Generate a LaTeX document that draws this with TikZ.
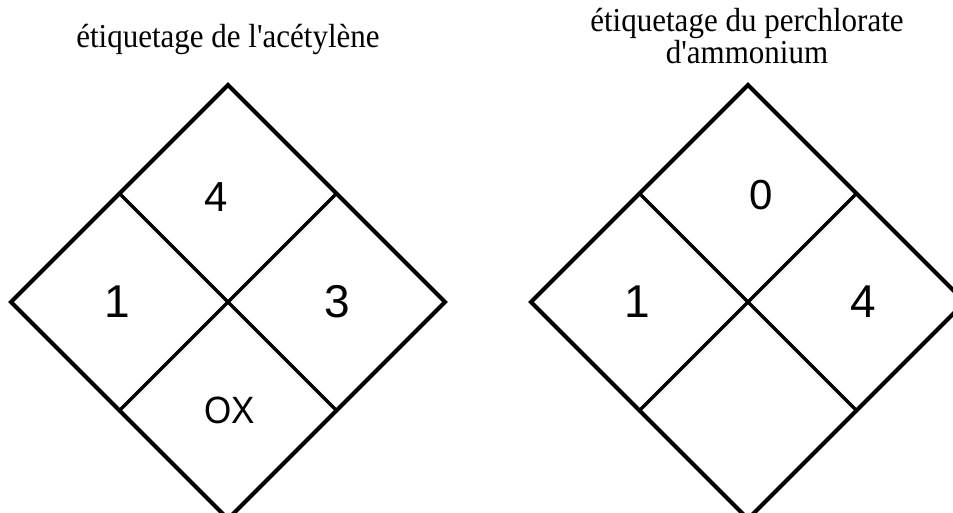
\documentclass[tikz,border=0pt]{standalone}
\usepackage{fontspec}
\newfontfamily\titlefont{Liberation Serif}
\newfontfamily\labelfont{Liberation Sans}
\usetikzlibrary{calc}
\begin{document}
\begin{tikzpicture}[x=1pt,y=1pt,
  outer/.style={line width=4pt,line join=miter},
  inner/.style={line width=3.4pt},
  title/.style={font=\titlefont\fontsize{31}{30}\selectfont,inner sep=0pt,yscale=1.08,align=center},
  topdigit/.style={font=\labelfont\fontsize{42}{42}\selectfont,inner sep=0pt},
  sidedigit/.style={font=\labelfont\fontsize{46}{46}\selectfont,inner sep=0pt},
  oxlab/.style={font=\labelfont\fontsize{38}{38}\selectfont,inner sep=0pt,xscale=0.92}]
\useasboundingbox (0,0) rectangle (953,513);
\clip (0,0) rectangle (953,513);
% titles
\node[title,anchor=base] (t1) at (228,465) {étiquetage de l'acétylène};
\node[title,anchor=base] (t2) at (747,449) {étiquetage du perchlorate\\d'ammonium};
% left diamond
\coordinate (AT) at (228,428);
\coordinate (AR) at (445,211);
\coordinate (AB) at (228,-6);
\coordinate (AL) at (11,211);
\draw[outer] (AT) -- (AR) -- (AB) -- (AL) -- cycle;
\draw[inner] ($(AT)!0.5!(AL)$) -- ($(AR)!0.5!(AB)$);
\draw[inner] ($(AT)!0.5!(AR)$) -- ($(AL)!0.5!(AB)$);
\node[topdigit] (a4) at (216,316) {4};
\node[sidedigit] (a1) at (117,211) {1};
\node[sidedigit] (a3) at (337,211) {3};
\node[oxlab] (aox) at (230,103) {OX};
% right diamond
\coordinate (BT) at (748,428);
\coordinate (BR) at (965,211);
\coordinate (BB) at (748,-6);
\coordinate (BL) at (531,211);
\draw[outer] (BT) -- (BR) -- (BB) -- (BL) -- cycle;
\draw[inner] ($(BT)!0.5!(BL)$) -- ($(BR)!0.5!(BB)$);
\draw[inner] ($(BT)!0.5!(BR)$) -- ($(BL)!0.5!(BB)$);
\node[topdigit] (b0) at (761,318) {0};
\node[sidedigit] (b1) at (637,211) {1};
\node[sidedigit] (b4) at (863,211) {4};
\end{tikzpicture}
\end{document}
